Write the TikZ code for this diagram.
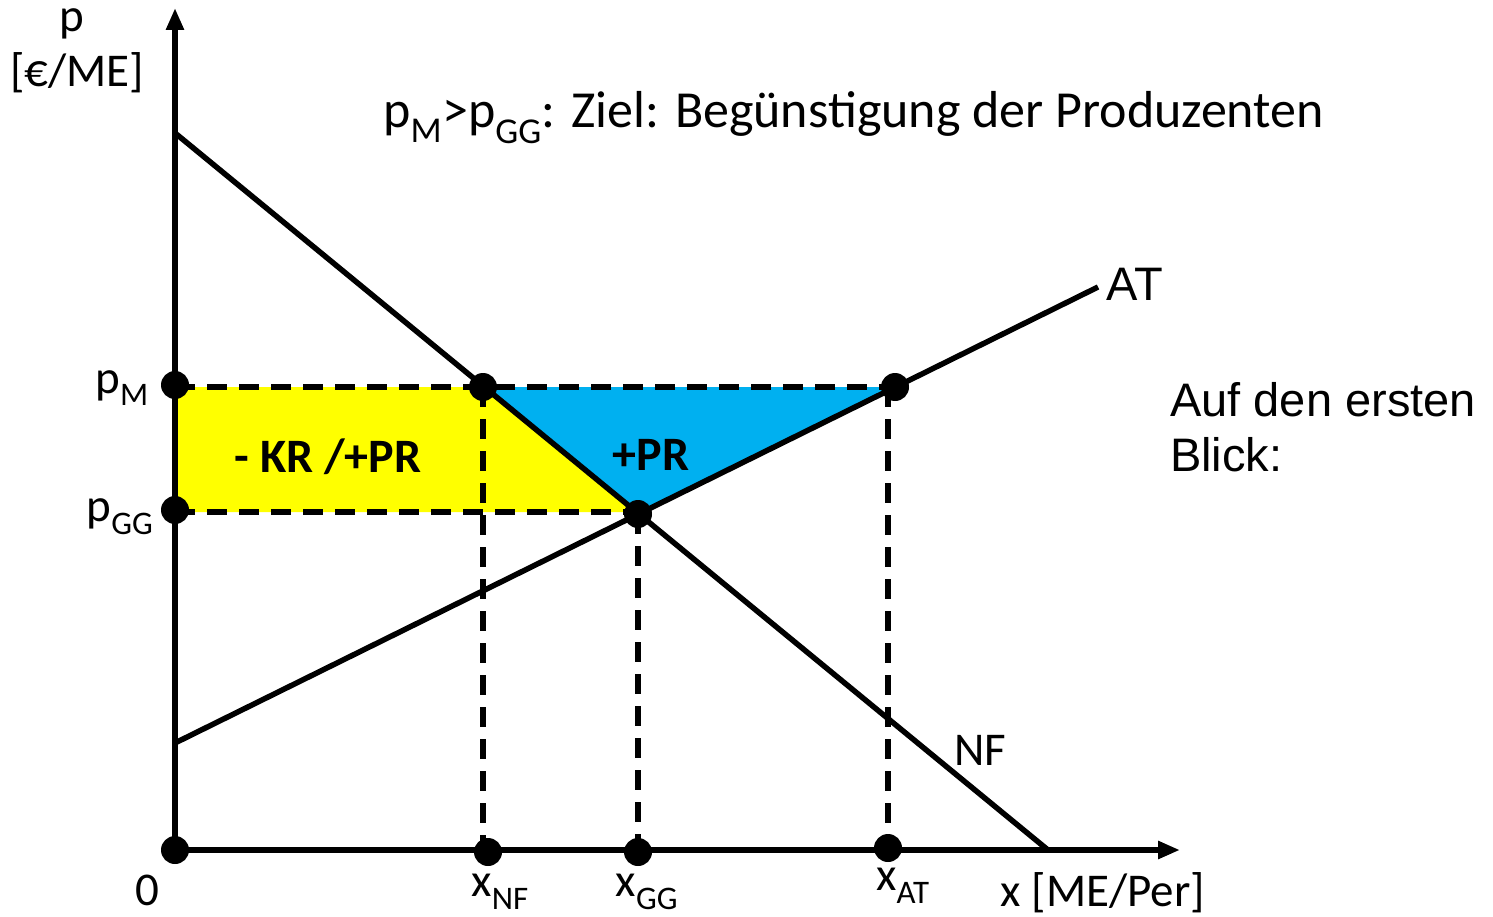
\documentclass[tikz,border=0pt]{standalone}
\usepackage{fontspec}
\setmainfont{Carlito}
\newfontfamily\arialfont{Liberation Sans}
\usetikzlibrary{arrows.meta}
\definecolor{myyellow}{RGB}{255,255,0}
\definecolor{myblue}{RGB}{0,176,240}
\begin{document}
\begin{tikzpicture}[x=1pt,y=-1pt,
  axis/.style={line width=5.5pt,-{Triangle[length=22pt,width=17pt]}},
  curve/.style={line width=5.5pt},
  dashline/.style={line width=6pt,dash pattern=on 20pt off 12pt},
  dot/.style={circle,fill=black,inner sep=0pt,minimum size=28pt},
  lbl/.style={font=\fontsize{47}{54}\selectfont,inner sep=0pt},
  albl/.style={font=\arialfont\fontsize{47}{55}\selectfont,inner sep=0pt},
  tlbl/.style={font=\fontsize{52}{60}\selectfont,inner sep=0pt},
  blbl/.style={font=\fontsize{48}{54}\selectfont\bfseries,inner sep=0pt}]
\useasboundingbox (0,0) rectangle (1493,917);
% coordinates
\coordinate (O) at (175,850);
\coordinate (ytip) at (175,8);
\coordinate (xtip) at (1180,850);
\coordinate (NFa) at (175,133);
\coordinate (NFb) at (1048,850);
\coordinate (ATa) at (175,743);
\coordinate (ATb) at (1098,287);
\coordinate (pM) at (175,387);
\coordinate (pGG) at (175,512);
\coordinate (A) at (483,387);
\coordinate (G) at (638,514);
\coordinate (B) at (895,387);
\coordinate (xNF) at (483,850);
\coordinate (xGG) at (638,850);
\coordinate (xAT) at (888,850);
\coordinate (Gl) at (638,512);
\coordinate (BAT) at (888,387);
% fills
\fill[myyellow] (pM) -- (A) -- (Gl) -- (pGG) -- cycle;
\fill[myblue] (A) -- (B) -- (G) -- cycle;
% dashed lines
\draw[dashline] (pM) -- (B);
\draw[dashline] (pGG) -- (Gl);
\draw[dashline] (A) -- (xNF);
\draw[dashline] (G) -- (xGG);
\draw[dashline] (BAT) -- (xAT);
% curves
\draw[curve] (NFa) -- (NFb);
\draw[curve] (ATa) -- (ATb);
% axes
\draw[axis] (O) -- (ytip);
\draw[axis] (O) -- (xtip);
% dots
\node[dot] (dpM) at (175,385) {};
\node[dot] (dpGG) at (175,510) {};
\node[dot] (dA) at (A) {};
\node[dot] (dG) at (G) {};
\node[dot] (dB) at (B) {};
\node[dot] (dO) at (175,850) {};
\node[dot] (dxNF) at (488,852) {};
\node[dot] (dxGG) at (638,852) {};
\node[dot] (dxAT) at (888,848) {};
% labels
\node[lbl,anchor=base] (tp) at (72,32) {p};
\node[lbl,anchor=base] (tunit) at (77,87) {[€/ME]};
\node[tlbl,anchor=base west] (title) at (383,128) {p\textsubscript{M}>p\textsubscript{GG}: Ziel: Begünstigung der Produzenten};
\node[albl,anchor=base west] (tAT) at (1106,301) {AT};
\node[albl,anchor=base west] (tblick1) at (1170,416) {Auf den ersten};
\node[albl,anchor=base west] (tblick2) at (1170,471) {Blick:};
\node[lbl] (tNF) at (980,750) {NF};
\node[lbl] (t0) at (147,890) {0};
\node[lbl] (txNF) at (500,892) {x\textsubscript{NF}};
\node[lbl] (txGG) at (647,892) {x\textsubscript{GG}};
\node[lbl] (txAT) at (903,886) {x\textsubscript{AT}};
\node[lbl] (tx) at (1103,893) {x [ME/Per]};
\node[lbl] (tpM) at (122,388) {p\textsubscript{M}};
\node[lbl] (tpGG) at (120,517) {p\textsubscript{GG}};
\node[blbl] (tKR) at (328,457) {- KR /+PR};
\node[blbl] (tPR) at (651,455) {+PR};
\end{tikzpicture}
\end{document}
